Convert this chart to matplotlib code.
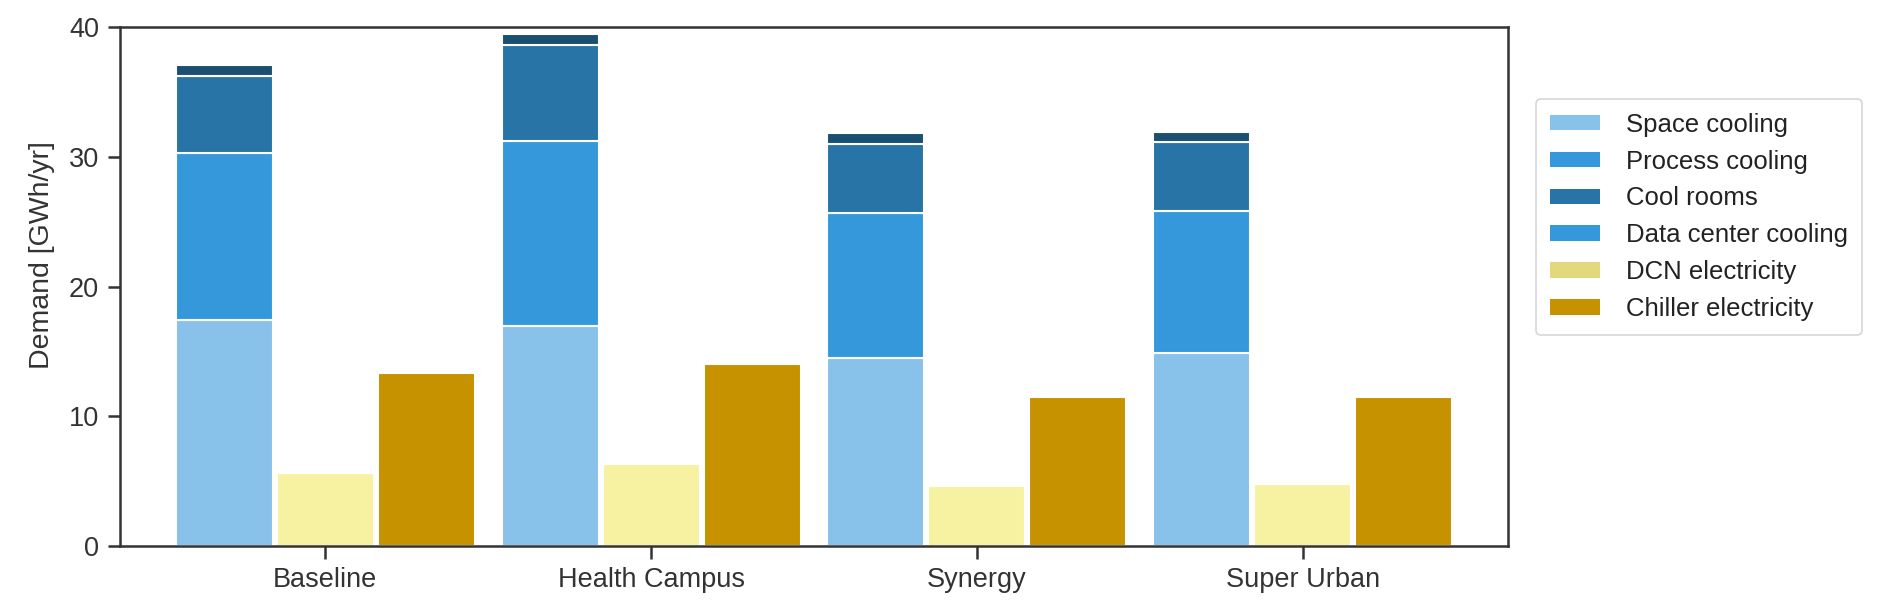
import numpy as np
import matplotlib
matplotlib.use("Agg")
import matplotlib.pyplot as plt
from matplotlib.patches import Patch

plt.rcParams['font.family'] = ['Liberation Sans', 'DejaVu Sans']

# ─────── Data (GWh/yr) ───────
categories = ["Baseline", "Health Campus", "Synergy", "Super Urban"]
space_cooling = [17.4, 16.95, 14.5, 14.9]
process_cooling = [12.85, 14.3, 11.15, 10.9]
cool_rooms = [6.0, 7.35, 5.33, 5.3]
data_center = [0.82, 0.83, 0.84, 0.8]
dcn_elec = [5.6, 6.33, 4.6, 4.8]
chiller_elec = [13.35, 14.05, 11.45, 11.45]

labels = ["Space cooling", "Process cooling", "Cool rooms",
          "Data center cooling", "DCN electricity", "Chiller electricity"]
bar_colors = ["#88c1e9", "#3498db", "#2874a6", "#1b4f72", "#f7f2a2", "#c79200"]
legend_colors = ["#88c1e9", "#3498db", "#2874a6", "#3498db", "#e2d87c", "#c79200"]

# ─────── Plot ───────
fig = plt.figure(figsize=(18.99, 6.09), dpi=100)
ax = fig.add_axes([0.0632, 0.1034, 0.7309, 0.8523])

x = np.arange(len(categories))
w = 0.298
off = 0.31
kw = dict(width=w, edgecolor="white", linewidth=1.5)

bottom = np.zeros(len(categories))
for vals, c in zip([space_cooling, process_cooling, cool_rooms, data_center], bar_colors[:4]):
    ax.bar(x - off, vals, bottom=bottom, color=c, **kw)
    bottom += np.array(vals)

ax.bar(x, dcn_elec, color=bar_colors[4], **kw)
ax.bar(x + off, chiller_elec, color=bar_colors[5], **kw)

ax.set_xlim(-0.63, 3.63)
ax.set_ylim(0, 40)
ax.set_yticks([0, 10, 20, 30, 40])
ax.set_xticks(x)
ax.set_xticklabels(categories)
ax.set_ylabel("Demand [GWh/yr]", fontsize=20.5, color="#333333")
ax.yaxis.set_label_coords(-0.047, 0.56)

for s in ax.spines.values():
    s.set_linewidth(1.8)
    s.set_color("#333333")
ax.tick_params(axis="both", labelsize=19.5, length=9, width=1.8,
               color="#333333", labelcolor="#333333", pad=6)

handles = [Patch(facecolor=c, edgecolor="none") for c in legend_colors]
leg = ax.legend(handles, labels, loc="upper left", bbox_to_anchor=(1.02, 0.862),
                borderaxespad=0, fontsize=18.5, frameon=True, fancybox=True,
                handlelength=1.95, handleheight=0.55, handletextpad=1.0,
                labelspacing=0.5, borderpad=0.55)
leg.get_frame().set_edgecolor("#cccccc")
leg.get_frame().set_linewidth(1.2)
for t in leg.get_texts():
    t.set_color("#222222")

fig.savefig("out.png", dpi=100)
